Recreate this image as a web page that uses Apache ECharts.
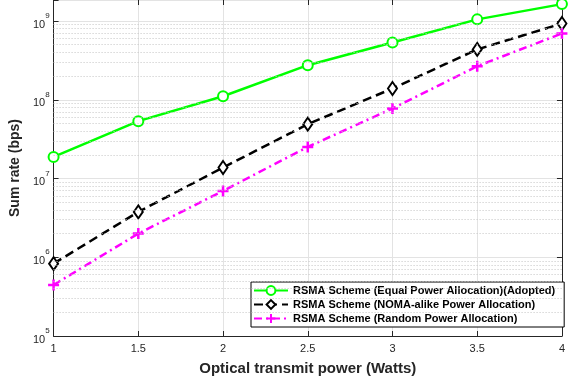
<!DOCTYPE html>
<html>
<head>
<meta charset="utf-8">
<script src="https://cdn.jsdelivr.net/npm/echarts@6/dist/echarts.min.js"></script>
<style>
  html, body { margin: 0; padding: 0; background: #fff; }
  #chart { width: 568px; height: 381px; }
</style>
</head>
<body>
<div id="chart"></div>
<script>
// transmit power (W) on x, sum rate (bps) on log y
const power = [1, 1.5, 2, 2.5, 3, 3.5, 4];
const equalPower = [1.88e7, 5.35e7, 1.11e8, 2.75e8, 5.35e8, 1.05e9, 1.64e9];
const nomaAlike = [8.3e5, 3.77e6, 1.38e7, 4.9e7, 1.39e8, 4.36e8, 9.3e8];
const randomPower = [4.45e5, 2.0e6, 6.96e6, 2.52e7, 7.75e7, 2.67e8, 6.95e8];
const names = [
  'RSMA Scheme (Equal Power Allocation)(Adopted)',
  'RSMA Scheme (NOMA-alike Power Allocation)',
  'RSMA Scheme (Random Power Allocation)'
];
const yMin = 1e5;
const yMax = 1.85e9;
const decades = [1e5, 1e6, 1e7, 1e8, 1e9];
const minorSteps = [2, 3, 4, 5, 6, 7, 8, 9];

const font = '"Liberation Sans", Arial, sans-serif';
const axisColor = '#262626';

// dotted minor grid at 2..9 x each decade
let minorLines = [];
decades.forEach(d => {
  minorSteps.forEach(m => {
    if (d * m < yMax) minorLines.push({ yAxis: d * m });
  });
});

const pow10Label = v => {
  const e = Math.log10(v);
  if (Math.abs(e - Math.round(e)) > 0.01) return '';
  return '{b|10}{e|' + Math.round(e) + '}';
};

const zip = vals => power.map((x, i) => [x, vals[i]]);

let option = {
  animation: false,
  backgroundColor: '#fff',
  grid: { left: 50, right: 2, top: 0, bottom: 45 },
  legend: {
    data: names,
    orient: 'vertical',
    left: 251,
    top: 282,
    itemWidth: 34,
    itemHeight: 11,
    itemGap: 3,
    padding: [3, 9, 3, 2],
    backgroundColor: '#fff',
    borderColor: '#000',
    borderWidth: 1,
    textStyle: { fontFamily: font, fontSize: 11, fontWeight: 'bold', color: '#000' }
  },
  xAxis: [
    {
      type: 'value',
      min: 1,
      max: 4,
      interval: 0.5,
      name: 'Optical transmit power (Watts)',
      nameLocation: 'middle',
      nameGap: 25,
      nameTextStyle: { fontFamily: font, fontSize: 15, fontWeight: 'bold', color: axisColor },
      axisLine: { lineStyle: { color: axisColor } },
      axisTick: { inside: true, length: 5, lineStyle: { color: axisColor } },
      axisLabel: { fontFamily: font, fontSize: 11, color: axisColor, margin: 7 },
      splitLine: { show: true, lineStyle: { color: '#e3e3e3' } }
    },
    {
      type: 'value',
      position: 'top',
      min: 1,
      max: 4,
      interval: 0.5,
      axisLine: { show: false },
      axisTick: { inside: true, length: 5, lineStyle: { color: axisColor } },
      axisLabel: { show: false },
      splitLine: { show: false }
    }
  ],
  yAxis: [
    {
      type: 'log',
      logBase: 10,
      min: yMin,
      max: yMax,
      name: 'Sum rate (bps)',
      nameLocation: 'middle',
      nameGap: 19,
      nameTextStyle: { fontFamily: font, fontSize: 14, fontWeight: 'bold', color: axisColor },
      axisLine: { show: true, lineStyle: { color: axisColor } },
      axisTick: { inside: true, length: 5, lineStyle: { color: axisColor } },
      axisLabel: {
        margin: 4,
        formatter: pow10Label,
        rich: {
          b: { fontFamily: font, fontSize: 11, color: axisColor, lineHeight: 18, verticalAlign: 'bottom' },
          e: { fontFamily: font, fontSize: 8, color: axisColor, lineHeight: 18, verticalAlign: 'top' }
        }
      },
      splitLine: { show: true, lineStyle: { color: '#e3e3e3' } }
    },
    {
      type: 'log',
      logBase: 10,
      min: yMin,
      max: yMax,
      position: 'right',
      axisLine: { show: true, lineStyle: { color: axisColor } },
      axisTick: { inside: true, length: 5, lineStyle: { color: axisColor } },
      axisLabel: { show: false },
      splitLine: { show: false }
    }
  ],
  series: [
    {
      name: 'minor',
      type: 'line',
      data: [],
      z: 1,
      silent: true,
      markLine: {
        silent: true,
        symbol: ['none', 'none'],
        label: { show: false },
        lineStyle: { type: [1, 2], color: '#c4c4c4', width: 1 },
        data: minorLines
      }
    },
    {
      name: names[0],
      type: 'line',
      data: zip(equalPower),
      z: 4,
      symbol: 'emptyCircle',
      symbolSize: 10,
      showAllSymbol: true,
      lineStyle: { color: '#00ff00', width: 2.5 },
      itemStyle: { color: '#00ff00', borderColor: '#00ff00', borderWidth: 2.5 }
    },
    {
      name: names[1],
      type: 'line',
      data: zip(nomaAlike),
      z: 3,
      symbol: 'emptyDiamond',
      symbolSize: [9, 13],
      lineStyle: { color: '#000', width: 2.5, type: [9, 5] },
      itemStyle: { color: '#000', borderColor: '#000', borderWidth: 2.5 }
    },
    {
      name: names[2],
      type: 'line',
      data: zip(randomPower),
      z: 3,
      symbol: 'path://M0,5H10M5,0V10',
      symbolSize: 11,
      lineStyle: { color: '#ff00ff', width: 2.5, type: [8, 4, 2, 4] },
      itemStyle: { color: '#ff00ff', borderColor: '#ff00ff', borderWidth: 2.5 }
    }
  ]
};

let myChart = echarts.init(document.getElementById('chart'));
myChart.setOption(option);
</script>
</body>
</html>
